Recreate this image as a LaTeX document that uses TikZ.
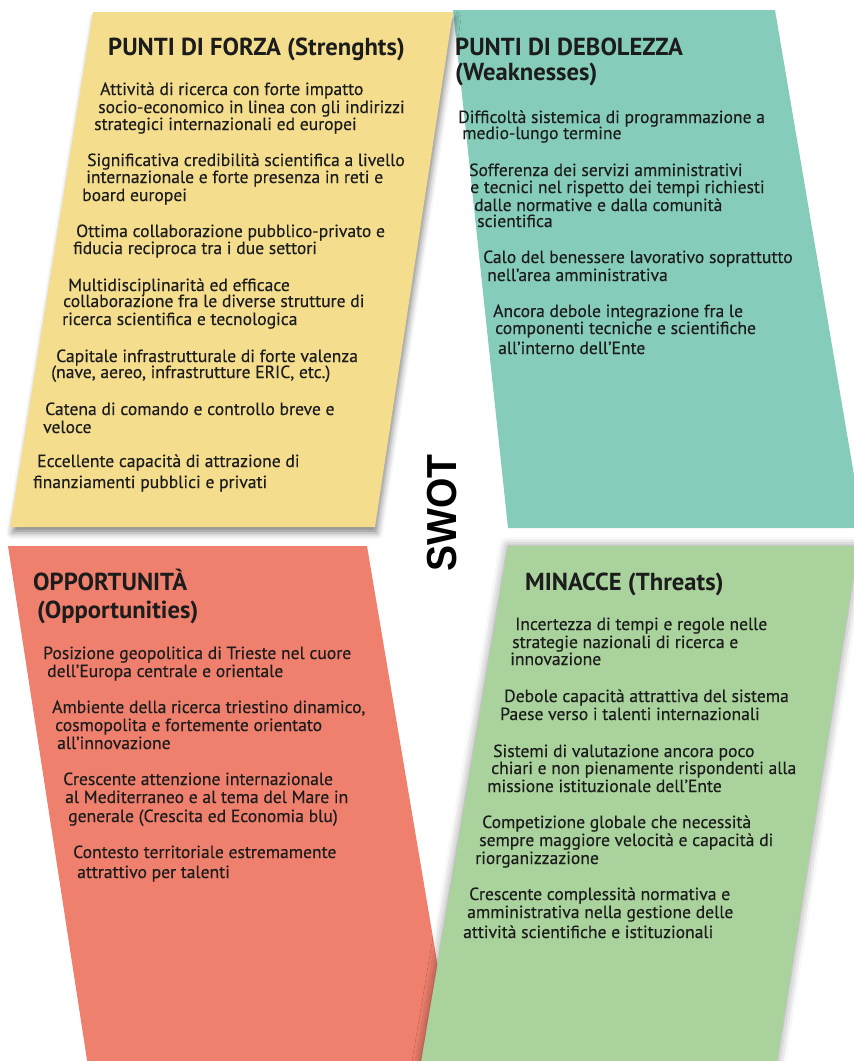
\documentclass[tikz,border=0pt]{standalone}
\usepackage{fontspec}
\setmainfont{PT Sans}[FakeBold=0.35]
\newfontfamily\bodyfont{PT Sans}[FakeBold=0.35]
\newfontfamily\headfont{PT Sans Bold}
\newfontfamily\swotfont{Liberation Sans Bold}
\usetikzlibrary{shadows.blur}
\definecolor{forza}{HTML}{F4DE8D}
\definecolor{debol}{HTML}{86CCBB}
\definecolor{oppor}{HTML}{EF806D}
\definecolor{minac}{HTML}{A9D29C}
\definecolor{ink}{HTML}{1C1C1C}
\begin{document}
\begin{tikzpicture}[x=1pt,y=-1pt,
  ln/.style={anchor=base west, inner sep=0pt, text=ink, font=\bodyfont\fontsize{17.6}{20}\selectfont},
  hd/.style={anchor=base west, inner sep=0pt, text=ink, font=\headfont\fontsize{24.6}{28}\selectfont}]
\useasboundingbox (0,0) rectangle (854,1061);
\begin{scope}
  \clip (0,0) rectangle (854,1061);
  % weaknesses panel
  \fill[debol] (453,10) -- (775,10) -- (863,528) -- (508,528) -- cycle;
  % strengths panel, with its drop shadow
  \fill[forza, blur shadow={shadow xshift=2pt, shadow yshift=-6pt, shadow blur radius=6pt, shadow opacity=45}]
    (93,12) -- (453,12) -- (375,527) -- (10,527) -- cycle;
  % opportunities panel
  \fill[oppor] (8,546) -- (367,546) -- (458,1086) -- (91,1086) -- cycle;
  % threats panel, shadow all round
  \fill[minac, blur shadow={shadow xshift=0pt, shadow yshift=0pt, shadow blur radius=9pt, shadow opacity=45}]
    (508,546) -- (858,546) -- (773,1086) -- (417,1086) -- cycle;
\end{scope}

% central label
\node[rotate=90, inner sep=0pt, text=black, font=\swotfont\fontsize{42}{42}\selectfont] (swot) at (442,513) {\scalebox{0.93}[1]{SWOT}};

% strengths
\node[hd] (sh) at (108,55) {PUNTI DI FORZA (Strenghts)};
\node[ln] (s1a) at (100,95) {Attività di ricerca con forte impatto};
\node[ln] (s1b) at (98,113) {socio-economico in linea con gli indirizzi};
\node[ln] (s1c) at (94,130) {strategici internazionali ed europei};
\node[ln] (s2a) at (87,166) {Significativa credibilità scientifica a livello};
\node[ln] (s2b) at (86,183) {internazionale e forte presenza in reti e};
\node[ln] (s2c) at (82,201) {board europei};
\node[ln] (s3a) at (76,237) {Ottima collaborazione pubblico-privato e};
\node[ln] (s3b) at (73,254) {fiducia reciproca tra i due settori};
\node[ln] (s4a) at (68,291) {Multidisciplinarità ed efficace};
\node[ln] (s4b) at (63,307) {collaborazione fra le diverse strutture di};
\node[ln] (s4c) at (62,325) {ricerca scientifica e tecnologica};
\node[ln] (s5a) at (56,362) {Capitale infrastrutturale di forte valenza};
\node[ln] (s5b) at (51,378) {(nave, aereo, infrastrutture ERIC, etc.)};
\node[ln] (s6a) at (45,415) {Catena di comando e controllo breve e};
\node[ln] (s6b) at (43,433) {veloce};
\node[ln] (s7a) at (37,467) {Eccellente capacità di attrazione di};
\node[ln] (s7b) at (33,488) {finanziamenti pubblici e privati};

% weaknesses
\node[hd] (wh1) at (455,55) {PUNTI DI DEBOLEZZA};
\node[hd] (wh2) at (455,80) {(Weaknesses)};
\node[ln] (w1a) at (458,123) {Difficoltà sistemica di programmazione a};
\node[ln] (w1b) at (462,139) {medio-lungo termine};
\node[ln] (w2a) at (469,176) {Sofferenza dei servizi amministrativi};
\node[ln] (w2b) at (470,193) {e tecnici nel rispetto dei tempi richiesti};
\node[ln] (w2c) at (474,211) {dalle normative e dalla comunità};
\node[ln] (w2d) at (477,227) {scientifica};
\node[ln] (w3a) at (483,263) {Calo del benessere lavorativo soprattutto};
\node[ln] (w3b) at (487,281) {nell’area amministrativa};
\node[ln] (w4a) at (493,317) {Ancora debole integrazione fra le};
\node[ln] (w4b) at (495,334) {componenti tecniche e scientifiche};
\node[ln] (w4c) at (498,354) {all’interno dell’Ente};

% opportunities
\node[hd] (oh1) at (33,590) {OPPORTUNITÀ};
\node[hd] (oh2) at (37,618) {(Opportunities)};
\node[ln] (o1a) at (43,659) {Posizione geopolitica di Trieste nel cuore};
\node[ln] (o1b) at (47,677) {dell’Europa centrale e orientale};
\node[ln] (o2a) at (52,713) {Ambiente della ricerca triestino dinamico,};
\node[ln] (o2b) at (55,731) {cosmopolita e fortemente orientato};
\node[ln] (o2c) at (57,749) {all’innovazione};
\node[ln] (o3a) at (63,785) {Crescente attenzione internazionale};
\node[ln] (o3b) at (65,803) {al Mediterraneo e al tema del Mare in};
\node[ln] (o3c) at (68,822) {generale (Crescita ed Economia blu)};
\node[ln] (o4a) at (73,858) {Contesto territoriale estremamente};
\node[ln] (o4b) at (77,878) {attrattivo per talenti};

% threats
\node[hd] (th) at (525,590) {MINACCE (Threats)};
\node[ln] (t1a) at (515,630) {Incertezza di tempi e regole nelle};
\node[ln] (t1b) at (512,648) {strategie nazionali di ricerca e};
\node[ln] (t1c) at (510,665) {innovazione};
\node[ln] (t2a) at (504,702) {Debole capacità attrattiva del sistema};
\node[ln] (t2b) at (500,720) {Paese verso i talenti internazionali};
\node[ln] (t3a) at (493,757) {Sistemi di valutazione ancora poco};
\node[ln] (t3b) at (491,774) {chiari e non pienamente rispondenti alla};
\node[ln] (t3c) at (487,792) {missione istituzionale dell’Ente};
\node[ln] (t4a) at (482,828) {Competizione globale che necessità};
\node[ln] (t4b) at (479,846) {sempre maggiore velocità e capacità di};
\node[ln] (t4c) at (475,864) {riorganizzazione};
\node[ln] (t5a) at (469,900) {Crescente complessità normativa e};
\node[ln] (t5b) at (467,918) {amministrativa nella gestione delle};
\node[ln] (t5c) at (463,938) {attività scientifiche e istituzionali};
\end{tikzpicture}
\end{document}
